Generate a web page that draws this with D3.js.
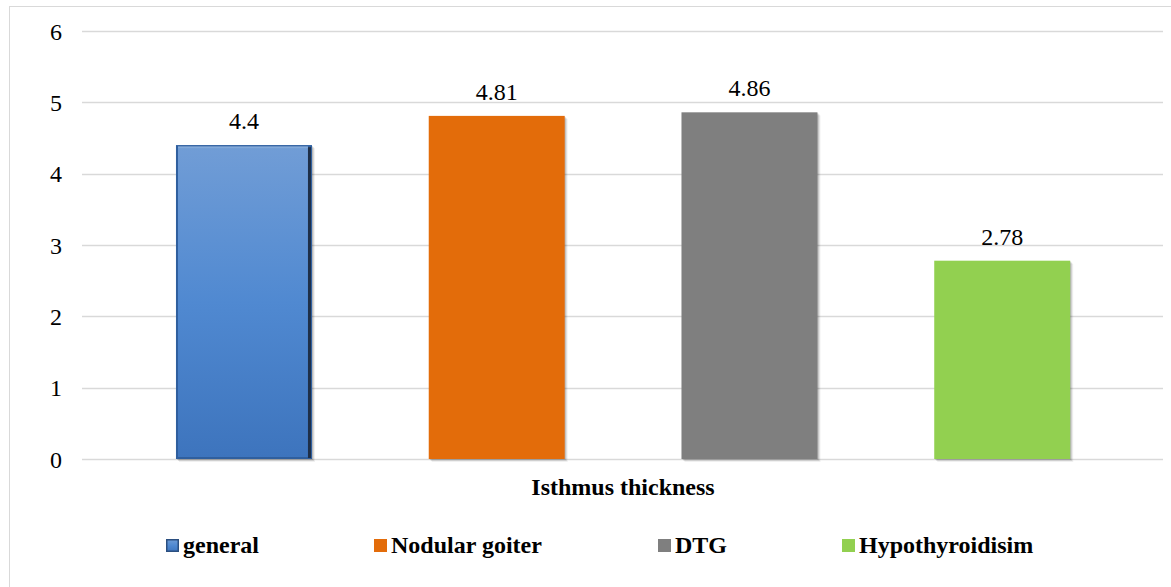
<!DOCTYPE html>
<html>
<head>
<meta charset="utf-8">
<script src="https://cdn.jsdelivr.net/npm/d3@7"></script>
<style>
  html, body { margin: 0; padding: 0; background: #fff; }
</style>
</head>
<body>
<svg id="chart" width="1171" height="587"></svg>
<script>
// Isthmus thickness by group
const categories = ["general", "Nodular goiter", "DTG", "Hypothyroidisim"];
const values = [4.4, 4.81, 4.86, 2.78];
const colors = ["#4a80c8", "#e36c0a", "#7f7f7f", "#92d050"];
const yTicks = [0, 1, 2, 3, 4, 5, 6];
const axisTitle = "Isthmus thickness";

const FONT = "'Liberation Serif'";

const svg = d3.select("#chart");

// helper: serif text
function serif(sel, size, bold) {
  sel.attr("font-family", "Liberation Serif")
    .style("font-family", FONT)
    .style("font-size", size + "px")
    .attr("fill", "#000");
  if (bold) sel.style("font-weight", "bold");
  return sel;
}

// bevelled blue gradient for the first series
const grad = svg.append("defs").append("linearGradient").attr("id", "blueGrad")
  .attr("x1", 0).attr("y1", 0).attr("x2", 0).attr("y2", 1);
grad.append("stop").attr("offset", "0%").attr("stop-color", "#719dd6");
grad.append("stop").attr("offset", "50%").attr("stop-color", "#5089d1");
grad.append("stop").attr("offset", "100%").attr("stop-color", "#3d74bd");

// chart frame
svg.append("rect").attr("x", 9.5).attr("y", 6.5).attr("width", 1180).attr("height", 600)
  .attr("fill", "none").attr("stroke", "#d9d9d9").attr("stroke-width", 1);

const y = d3.scaleLinear().domain([0, 6]).range([459, 31]);
const x = d3.scaleBand().domain(categories).range([117.6, 1128.6])
  .paddingInner(0.462).paddingOuter(0.231);

// gridlines
svg.append("g").selectAll("line").data(yTicks).join("line")
  .attr("x1", 82).attr("x2", 1163)
  .attr("y1", d => Math.round(y(d)) + 0.5).attr("y2", d => Math.round(y(d)) + 0.5)
  .attr("stroke", "#d9d9d9").attr("stroke-width", 1.3);

// y axis labels
svg.append("g").selectAll("text").data(yTicks).join("text")
  .attr("x", 62).attr("y", d => y(d) + 8.5)
  .attr("text-anchor", "end")
  .call(serif, 24, false)
  .text(d => d3.format("d")(d));

// soft shadows: stacked translucent offsets behind each bar
const shadowSteps = [[3, 0.06], [2, 0.1], [1, 0.14]];
shadowSteps.forEach(([o, a]) => {
  svg.append("g").selectAll("rect").data(categories).join("rect")
    .attr("x", d => x(d) + o)
    .attr("y", (d, i) => y(values[i]) + o)
    .attr("width", x.bandwidth())
    .attr("height", (d, i) => y(0) - y(values[i]))
    .attr("fill", "#000").attr("opacity", a);
});

// bars
svg.append("g").selectAll("rect").data(categories).join("rect")
  .attr("x", d => x(d))
  .attr("y", (d, i) => y(values[i]))
  .attr("width", x.bandwidth())
  .attr("height", (d, i) => y(0) - y(values[i]))
  .attr("fill", (d, i) => i === 0 ? "url(#blueGrad)" : colors[i]);

// bevel edges on the first bar
const b0 = categories[0];
const bx = x(b0), by = y(values[0]), bw = x.bandwidth(), bh = y(0) - y(values[0]);
svg.append("rect").attr("x", bx + 1).attr("y", by + 1).attr("width", bw - 2).attr("height", bh - 2)
  .attr("fill", "none").attr("stroke", "#2f5f9e").attr("stroke-width", 2);
svg.append("rect").attr("x", bx + bw - 4).attr("y", by + 2).attr("width", 3).attr("height", bh - 3)
  .attr("fill", "#1e2f48");
svg.append("rect").attr("x", bx + 2).attr("y", by + 1).attr("width", bw - 6).attr("height", 2)
  .attr("fill", "#8fb2de").attr("opacity", 0.7);

// value labels
svg.append("g").selectAll("text").data(categories).join("text")
  .attr("x", d => x(d) + x.bandwidth() / 2)
  .attr("y", (d, i) => y(values[i]) - 16)
  .attr("text-anchor", "middle")
  .call(serif, 24, false)
  .text((d, i) => values[i]);

// axis title
svg.append("text").attr("x", 623).attr("y", 495).attr("text-anchor", "middle")
  .call(serif, 24, true)
  .text(axisTitle);

// legend
const legendX = [166, 374, 658, 842];
const lg = svg.append("g").selectAll("g").data(categories).join("g")
  .attr("transform", (d, i) => `translate(${legendX[i]},539)`);
lg.append("rect").attr("width", 13).attr("height", 13)
  .attr("fill", (d, i) => i === 0 ? "url(#blueGrad)" : colors[i]);
lg.filter((d, i) => i === 0).append("rect")
  .attr("x", 0.75).attr("y", 0.75).attr("width", 11.5).attr("height", 11.5)
  .attr("fill", "none").attr("stroke", "#2b4f80").attr("stroke-width", 1.5);
lg.append("text").attr("x", 17).attr("y", 14)
  .call(serif, 24, true)
  .text(d => d);
</script>
</body>
</html>
